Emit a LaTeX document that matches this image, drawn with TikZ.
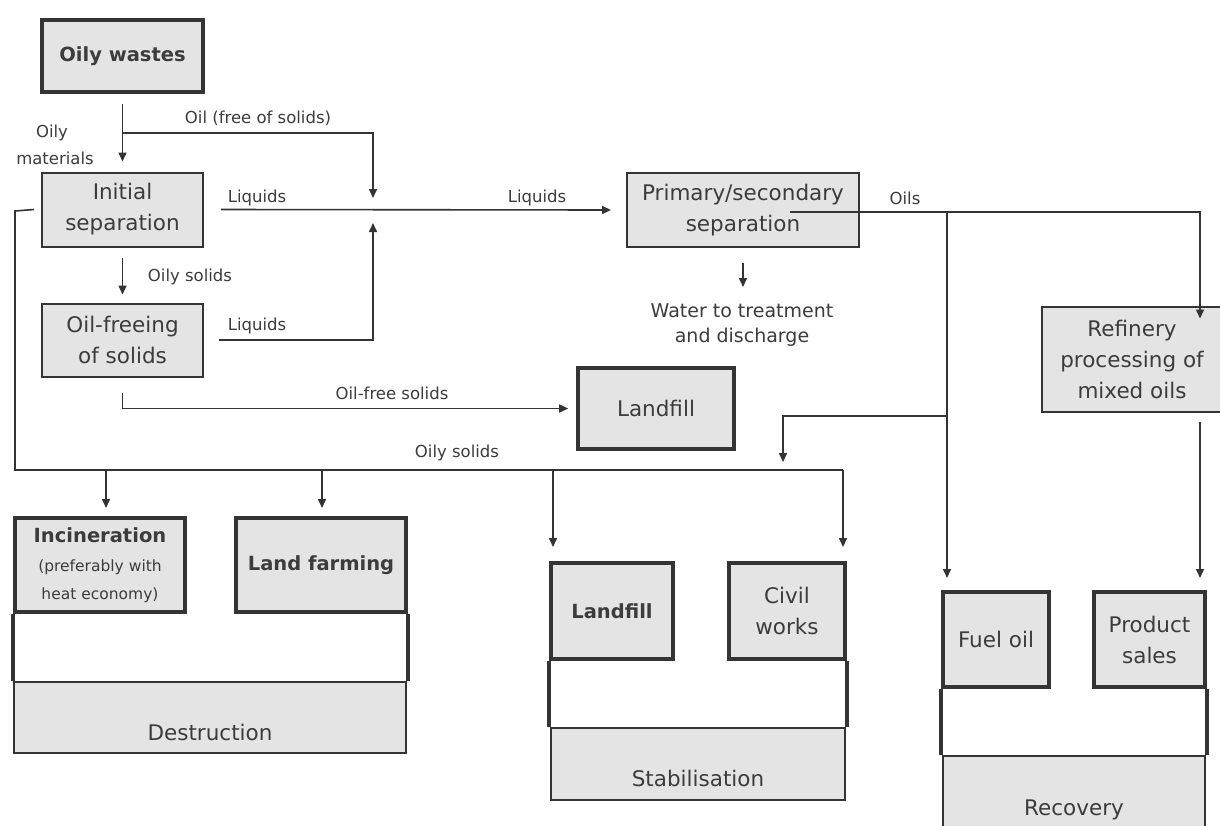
\documentclass[tikz,border=0pt]{standalone}
\usepackage{fontspec}
\setmainfont{DejaVu Sans}
\usetikzlibrary{arrows.meta}
\definecolor{boxgray}{RGB}{228,228,228}
\definecolor{ink}{RGB}{52,52,52}
\definecolor{txt}{RGB}{60,60,60}
\tikzset{
  boxthin/.style={draw=ink, line width=2pt, fill=boxgray, inner sep=0pt, align=center, text=txt,
     font=\fontsize{21.5}{31}\selectfont},
  boxthick/.style={boxthin, line width=3.6pt},
  lbl/.style={text=txt, inner sep=0pt, align=center, font=\fontsize{16.5}{25}\selectfont},
  conn/.style={draw=ink, line width=1.6pt},
  arr/.style={conn, -{Triangle[length=9pt,width=8pt]}},
  side/.style={draw=ink, line width=3.6pt},
}
\begin{document}
\begin{tikzpicture}[x=1pt,y=-1pt]
\useasboundingbox (0,0) rectangle (1220,825);
\fill[white] (0,0) rectangle (1220,825);

% ---------- boxes ----------
\node[boxthick, minimum width=161pt, minimum height=72pt, font=\fontsize{19.5}{24}\selectfont\bfseries] (ow) at (122.5,56) {Oily wastes};
\node[boxthin, minimum width=161pt, minimum height=74pt] (is) at (122.5,209.5) {Initial\\separation};
\node[boxthin, minimum width=161pt, minimum height=73pt] (of) at (122.5,340) {Oil-freeing\\of solids};
\node[boxthin, minimum width=232pt, minimum height=74pt] (ps) at (743,210) {Primary/secondary\\separation};
\node[boxthick, minimum width=156pt, minimum height=81pt] (lf1) at (656,408.5) {Landfill};
\node[boxthin, minimum width=180pt, minimum height=105pt] (ref) at (1132,359) {Refinery\\processing of\\mixed oils};

% destruction group
\node[boxthin, minimum width=392pt, minimum height=71pt] (dest) at (210,717.5) {\raisebox{-22.5pt}[0pt][0pt]{Destruction}};
\node[boxthick, minimum width=170pt, minimum height=94pt] (inc) at (100,565)
  {{\fontsize{19.5}{24}\selectfont\bfseries Incineration}\\[-2pt]{\fontsize{15.5}{23}\selectfont (preferably with}\\[-3pt]{\fontsize{15.5}{23}\selectfont heat economy)}};
\node[boxthick, minimum width=170pt, minimum height=94pt, font=\fontsize{19.5}{24}\selectfont\bfseries] (lfarm) at (321,565) {Land farming};
\draw[side] (inc.south west) -- (inc.south west |- dest.north);
\draw[side] (lfarm.south east) -- (lfarm.south east |- dest.north);

% stabilisation group
\node[boxthin, minimum width=294pt, minimum height=72pt] (stab) at (698,764) {\raisebox{-22pt}[0pt][0pt]{Stabilisation}};
\node[boxthick, minimum width=122pt, minimum height=96pt, font=\fontsize{19.5}{24}\selectfont\bfseries] (lf2) at (612,611) {Landfill};
\node[boxthick, minimum width=116pt, minimum height=96pt] (civ) at (787,611) {Civil\\works};
\draw[side] (lf2.south west) -- (lf2.south west |- stab.north);
\draw[side] (civ.south east) -- (civ.south east |- stab.north);

% recovery group
\node[boxthin, minimum width=262pt, minimum height=88pt] (rec) at (1074,800) {\raisebox{-15pt}[0pt][0pt]{Recovery}};
\node[boxthick, minimum width=106pt, minimum height=95pt] (fuel) at (996,639.5) {Fuel oil};
\node[boxthick, minimum width=111pt, minimum height=95pt] (prod) at (1149.5,639.5) {Product\\sales};
\draw[side] (fuel.south west) -- (fuel.south west |- rec.north);
\draw[side] (prod.south east) -- (prod.south east |- rec.north);

% ---------- coordinates ----------
\coordinate (oilsplit) at (122,133);
\coordinate (liqjoin) at (373,211);
\coordinate (loopA) at (15,211);
\coordinate (loopB) at (15,470);
\coordinate (busend) at (843,470);
\coordinate (dInc) at (106,470);
\coordinate (dFarm) at (322,470);
\coordinate (dLf) at (553,470);
\coordinate (oilsstart) at (790,212);
\coordinate (oilscorner) at (1200,212);
\coordinate (oilsdown) at (947,212);
\coordinate (branch) at (947,416);
\coordinate (branchturn) at (783,416);
\coordinate (branchtip) at (783,462);
\coordinate (fueltip) at (947,578);
\coordinate (prodtip) at (1200,578);
\coordinate (reftail) at (1200,422);

% ---------- connectors ----------
\draw[arr] ([yshift=-10pt]ow.south) -- ([yshift=10pt]is.north);
\draw[arr] (oilsplit) -| ([yshift=13pt]liqjoin);
\draw[arr] ([xshift=17pt]is.east) -- ([xshift=-15pt]ps.west);
\draw[arr] ([yshift=-10pt]is.south) -- ([yshift=8pt]of.north);
\draw[arr] ([xshift=15pt]of.east) -| ([yshift=-12pt]liqjoin);
\draw[arr] ([yshift=-15pt]of.south) |- ([xshift=-8pt]lf1.west);
\draw[conn] ([xshift=-7pt]is.west) -- (loopA) -- (loopB) -- (busend);
\draw[arr] (dInc) -- (106,508);
\draw[arr] (dFarm) -- (322,508);
\draw[arr] (dLf) -- (553,547);
\draw[arr] (busend) -- (843,547);
\draw[arr] ([yshift=-15pt]ps.south) -- ([yshift=-39pt]ps.south);
\draw[arr] (oilsstart) -- (oilscorner) -- ([yshift=-13pt]ref.north -| oilscorner);
\draw[arr] (oilsdown) -- (fueltip);
\draw[arr] (branch) -- (branchturn) -- (branchtip);
\draw[arr] (reftail) -- (prodtip);

% ---------- labels ----------
\node[lbl] (l1) at (52,133) {Oily};
\node[lbl] (l2) at (55,158) {materials};
\node[lbl] (l3) at (258,118) {Oil (free of solids)};
\node[lbl] (l4) at (257,198) {Liquids};
\node[lbl] (l5) at (537,198) {Liquids};
\node[lbl] (l6) at (190,277) {Oily solids};
\node[lbl] (l7) at (257,326) {Liquids};
\node[lbl] (l8) at (392,393) {Oil-free solids};
\node[lbl] (l9) at (457,453) {Oily solids};
\node[lbl] (l10) at (905,198) {Oils};
\node[lbl, font=\fontsize{19}{25}\selectfont] (l11) at (742,325) {Water to treatment\\and discharge};
\end{tikzpicture}
\end{document}
